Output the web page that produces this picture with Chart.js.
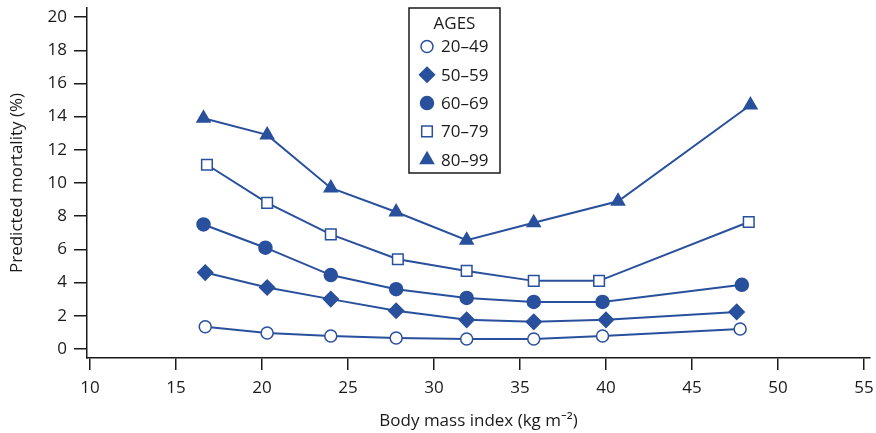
<!DOCTYPE html>
<html>
<head>
<meta charset="utf-8">
<script src="https://cdn.jsdelivr.net/npm/chart.js@4"></script>
<style>
  html, body { margin: 0; padding: 0; background: #fff; }
  #wrap { width: 876px; height: 433px; }
</style>
</head>
<body>
<div id="wrap"><canvas id="chart" width="876" height="433"></canvas></div>
<script>
// Werte
const ageLabels = ['20–49', '50–59', '60–69', '70–79', '80–99'];

const bmi2049 = [16.7, 20.3, 24.0, 27.8, 31.9, 35.8, 39.8, 47.8];
const mort2049 = [1.33, 0.96, 0.78, 0.66, 0.6, 0.6, 0.78, 1.2];

const bmi5059 = [16.7, 20.3, 24.0, 27.8, 31.9, 35.8, 40.0, 47.6];
const mort5059 = [4.6, 3.7, 3.0, 2.3, 1.75, 1.63, 1.75, 2.23];

const bmi6069 = [16.6, 20.2, 24.0, 27.8, 31.9, 35.8, 39.8, 47.9];
const mort6069 = [7.5, 6.1, 4.45, 3.6, 3.07, 2.83, 2.83, 3.86];

const bmi7079 = [16.8, 20.3, 24.0, 27.9, 31.9, 35.8, 39.6, 48.3];
const mort7079 = [11.1, 8.8, 6.9, 5.4, 4.7, 4.1, 4.1, 7.65];

const bmi8099 = [16.6, 20.3, 24.0, 27.8, 31.9, 35.8, 40.7, 48.4];
const mort8099 = [13.9, 12.9, 9.7, 8.25, 6.55, 7.6, 8.9, 14.7];

const xTicks = [10, 15, 20, 25, 30, 35, 40, 45, 50, 55];
const yTicks = [0, 2, 4, 6, 8, 10, 12, 14, 16, 18, 20];

const blue = '#29509c';
const ink = '#1a1a1a';
const fontFamily = '"Open Sans", "Noto Sans", sans-serif';

function toPoints(xs, ys) {
    return xs.map((x, i) => ({ x: x, y: ys[i] }));
}

const seriesDefs = [
    { xs: bmi2049, ys: mort2049, style: 'circle', fill: '#fff', radius: 6 },
    { xs: bmi5059, ys: mort5059, style: 'rectRot', fill: blue, radius: 7.5 },
    { xs: bmi6069, ys: mort6069, style: 'circle', fill: blue, radius: 6.5 },
    { xs: bmi7079, ys: mort7079, style: 'rect', fill: '#fff', radius: 7.5 },
    { xs: bmi8099, ys: mort8099, style: 'triangle', fill: blue, radius: 7.5 }
];

const datasets = seriesDefs.map((s, i) => ({
    label: ageLabels[i],
    data: toPoints(s.xs, s.ys),
    showLine: true,
    borderColor: blue,
    borderWidth: 2,
    backgroundColor: s.fill,
    pointStyle: s.style,
    pointRadius: s.radius,
    pointBorderWidth: 1.5,
    pointBorderColor: blue,
    pointBackgroundColor: s.fill
}));

// Legende als Kasten im Diagramm
const boxLegend = {
    id: 'boxLegend',
    afterDraw(chart) {
        const ctx = chart.ctx;
        const left = 409, top = 8, w = 91, h = 165;
        ctx.save();
        ctx.fillStyle = '#fff';
        ctx.fillRect(left, top, w, h);
        ctx.strokeStyle = ink;
        ctx.lineWidth = 1.5;
        ctx.strokeRect(left, top, w, h);
        ctx.fillStyle = ink;
        ctx.font = '17px ' + fontFamily;
        ctx.textBaseline = 'middle';
        ctx.textAlign = 'center';
        ctx.fillText('AGES', left + w / 2, top + 16);
        ctx.textAlign = 'left';
        chart.data.datasets.forEach((ds, i) => {
            const y = top + 38.5 + i * 28.3;
            ctx.fillStyle = ds.pointBackgroundColor;
            ctx.strokeStyle = blue;
            ctx.lineWidth = 1.5;
            Chart.helpers.drawPoint(ctx, {
                pointStyle: ds.pointStyle,
                radius: ds.pointRadius,
                borderWidth: 1.5
            }, left + 18, y);
            ctx.fillStyle = ink;
            ctx.fillText(ds.label, left + 32, y + 1);
        });
        ctx.restore();
    }
};

new Chart(document.getElementById('chart'), {
    type: 'scatter',
    data: { datasets: datasets },
    options: {
        responsive: false,
        animation: false,
        layout: { autoPadding: false, padding: { top: 8, right: 6, left: 0, bottom: 0 } },
        plugins: {
            legend: { display: false },
            tooltip: { enabled: false }
        },
        scales: {
            x: {
                type: 'linear',
                min: 9.826,
                max: 55.35,
                afterBuildTicks: (scale) => { scale.ticks = xTicks.map(v => ({ value: v })); },
                afterFit: (scale) => {
                    scale.height = 75;
                    scale.paddingLeft = 0;
                    scale.paddingRight = 0;
                },
                grid: { drawOnChartArea: false, tickLength: 12, color: ink, lineWidth: 1.5 },
                border: { color: ink, width: 1.5 },
                ticks: { color: ink, font: { size: 17, family: fontFamily }, padding: 8, maxRotation: 0 },
                title: {
                    display: true,
                    text: 'Body mass index (kg m⁻²)',
                    color: ink,
                    font: { size: 17, family: fontFamily },
                    padding: { top: 4, bottom: 2 }
                }
            },
            y: {
                type: 'linear',
                min: -0.55,
                max: 20.55,
                afterBuildTicks: (scale) => { scale.ticks = yTicks.map(v => ({ value: v })); },
                afterFit: (scale) => {
                    scale.width = 87;
                    scale.paddingTop = 0;
                    scale.paddingBottom = 0;
                },
                grid: { drawOnChartArea: false, tickLength: 13, color: ink, lineWidth: 1.5 },
                border: { color: ink, width: 1.5 },
                ticks: { color: ink, font: { size: 17, family: fontFamily }, padding: 7 },
                title: {
                    display: true,
                    text: 'Predicted mortality (%)',
                    color: ink,
                    font: { size: 17, family: fontFamily },
                    padding: { top: 7, bottom: 2 }
                }
            }
        }
    },
    plugins: [boxLegend]
});
</script>
</body>
</html>
